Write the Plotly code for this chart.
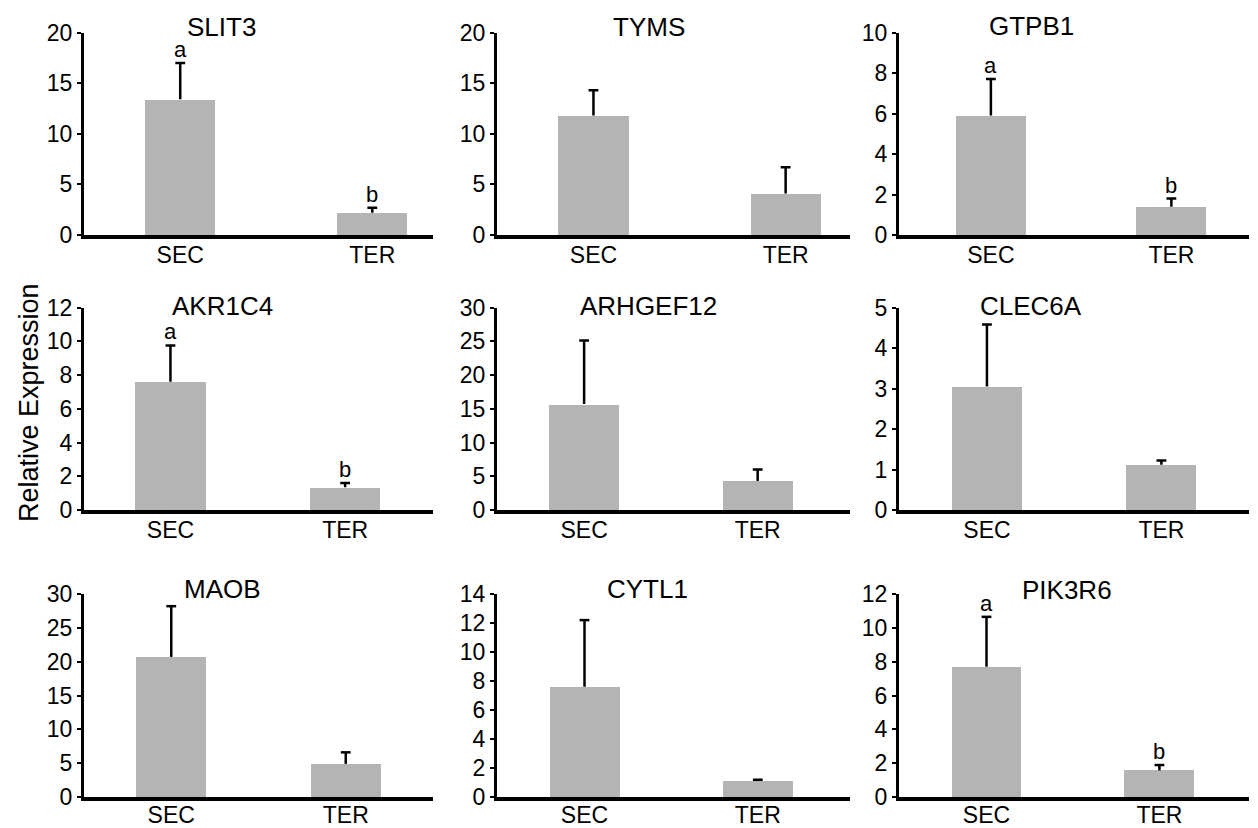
import plotly.graph_objects as go

genes = ["SLIT3", "TYMS", "GTPB1", "AKR1C4", "ARHGEF12", "CLEC6A", "MAOB", "CYTL1", "PIK3R6"]
groups = ["SEC", "TER"]
means = [
    [13.4, 2.2], [11.8, 4.1], [5.9, 1.4],
    [7.6, 1.35], [15.7, 4.3], [3.05, 1.12],
    [20.7, 4.9], [7.6, 1.1], [7.7, 1.57],
]
errs = [
    [3.6, 0.5], [2.5, 2.6], [1.8, 0.4],
    [2.15, 0.25], [9.4, 1.7], [1.53, 0.1],
    [7.5, 1.7], [4.6, 0.09], [2.95, 0.32],
]
letters = [
    ["a", "b"], ["", ""], ["a", "b"],
    ["a", "b"], ["", ""], ["", ""],
    ["", ""], ["", ""], ["a", "b"],
]
y_max = [20, 20, 10, 12, 30, 5, 30, 14, 12]
y_dtick = [5, 5, 2, 2, 5, 1, 5, 2, 2]
y_label = "Relative Expression"

# layout constants: pixel geometry of the 1258x828 window (page body has an 8px margin)
WIN_W, WIN_H, OFF = 1258, 828, 8
W, H = WIN_W - OFF, WIN_H - OFF


def px_x(p):
    return (p - OFF) / W


def px_y(p):
    return 1 - (p - OFF) / H


col_px = [(84, 433), (497, 850), (899, 1249)]
row_px = [(32.5, 235), (307.5, 510), (594, 797)]
xlabel_standoff = [-4, -4, -6]
x_ranges = [
    [-0.501, 1.316], [-0.502, 1.335], [-0.509, 1.43],
    [-0.495, 1.503], [-0.502, 1.532], [-0.504, 1.502],
    [-0.5, 1.5], [-0.505, 1.532], [-0.506, 1.518],
]
bar_w = [0.366, 0.365, 0.389, 0.403, 0.404, 0.402, 0.402, 0.404, 0.404]
title_px = [(221, 27), (649, 27), (1031, 26), (222, 306), (648, 306), (1031, 306),
            (222, 589), (647, 589), (1067, 590)]

FONT = "Liberation Sans, Arial, sans-serif"
fig = go.Figure()
annotations = []
for i, g in enumerate(genes):
    r, c = divmod(i, 3)
    ax = "" if i == 0 else str(i + 1)
    fig.add_trace(go.Bar(
        x=groups, y=means[i], width=bar_w[i],
        marker=dict(color="#b4b4b4", line=dict(width=0)),
        xaxis="x" + ax, yaxis="y" + ax, showlegend=False, hoverinfo="skip",
    ))
    # upper-only error bars: stem from bar top to mean+err, cap at top
    ex, ey, tops = [], [], []
    for j, grp in enumerate(groups):
        ex += [grp, grp, None]
        ey += [means[i][j], means[i][j] + errs[i][j], None]
        tops.append(means[i][j] + errs[i][j])
    fig.add_trace(go.Scatter(
        x=ex, y=ey, mode="lines", line=dict(color="black", width=2.5),
        xaxis="x" + ax, yaxis="y" + ax, showlegend=False, hoverinfo="skip",
    ))
    fig.add_trace(go.Scatter(
        x=groups, y=tops, mode="markers",
        marker=dict(symbol="line-ew", size=7, line=dict(color="black", width=2.5)),
        xaxis="x" + ax, yaxis="y" + ax, showlegend=False, hoverinfo="skip",
    ))
    x0, x1 = col_px[c]
    yt, yb = row_px[r]
    fig.layout["xaxis" + ax] = dict(
        domain=[px_x(x0), px_x(x1)], range=x_ranges[i], type="category",
        anchor="y" + ax, showline=True, linecolor="black", linewidth=4,
        ticks="", showgrid=False, zeroline=False, automargin=False,
        ticklabelstandoff=xlabel_standoff[r],
        tickfont=dict(family=FONT, size=23, color="black"),
    )
    fig.layout["yaxis" + ax] = dict(
        domain=[px_y(yb), px_y(yt)], range=[0, y_max[i]], dtick=y_dtick[i],
        anchor="x" + ax, showline=True, linecolor="black", linewidth=3,
        ticks="outside", ticklen=4, tickwidth=2, tickcolor="black",
        showgrid=False, zeroline=False, automargin=False,
        tickfont=dict(family=FONT, size=23, color="black"),
    )
    tx, ty = title_px[i]
    annotations.append(dict(text=g, x=px_x(tx), y=px_y(ty), xref="paper", yref="paper",
                            showarrow=False, xanchor="center", yanchor="middle",
                            font=dict(family=FONT, size=26, color="black")))
    for j, lab in enumerate(letters[i]):
        if lab:
            annotations.append(dict(text=lab, x=groups[j], y=tops[j],
                                    xref="x" + ax, yref="y" + ax, showarrow=False,
                                    xanchor="center", yanchor="bottom", yshift=-1,
                                    font=dict(family=FONT, size=22, color="black")))

annotations.append(dict(text=y_label, x=px_x(29), y=px_y(403), xref="paper", yref="paper",
                        showarrow=False, textangle=-90, xanchor="center", yanchor="middle",
                        font=dict(family=FONT, size=27, color="black")))

fig.update_layout(
    width=W, height=H, margin=dict(l=0, r=0, t=0, b=0, autoexpand=False),
    paper_bgcolor="white", plot_bgcolor="white",
    annotations=annotations, bargap=0, hovermode=False,
)
fig.write_html("out.html")
